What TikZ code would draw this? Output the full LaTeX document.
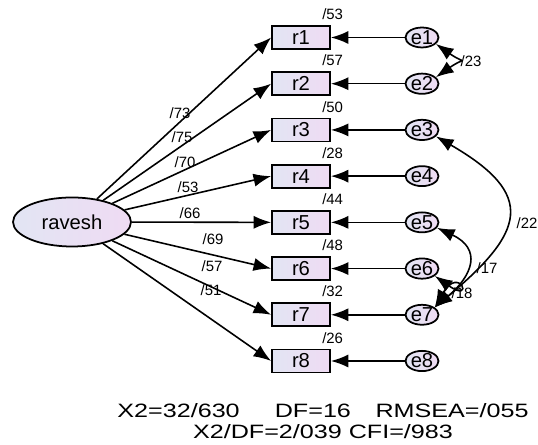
\documentclass[tikz,border=0pt]{standalone}
\usepackage{fontspec}
\setmainfont{Liberation Sans}
\newfontfamily\statfont[FakeStretch=1.3]{Liberation Sans}
\usetikzlibrary{arrows.meta,shapes.geometric,positioning}
\definecolor{fillleft}{RGB}{226,229,243}
\definecolor{fillright}{RGB}{239,219,243}
\tikzset{
  obs/.style={draw,line width=1pt,minimum width=1.16cm,minimum height=0.46cm,inner sep=0pt,
    left color=fillleft,right color=fillright,font=\fontsize{11.5}{12}\selectfont},
  err/.style={draw,ellipse,line width=1pt,minimum width=0.66cm,minimum height=0.38cm,inner sep=0pt,
    left color=fillleft,right color=fillright,font=\fontsize{11.5}{12}\selectfont},
  lat/.style={draw,ellipse,line width=1pt,minimum width=2.36cm,minimum height=0.98cm,inner sep=0pt,
    left color=fillleft,right color=fillright,font=\fontsize{11.5}{12}\selectfont},
  reg/.style={line width=0.9pt,-{Latex[length=10pt,width=7.5pt]}},
  cov/.style={line width=0.9pt,{Latex[length=10pt,width=7.5pt]}-{Latex[length=10pt,width=7.5pt]}},
  wt/.style={font=\fontsize{8.5}{9}\selectfont,inner sep=0pt},
}
\begin{document}
\begin{tikzpicture}
\useasboundingbox (0,0) rectangle (10.76,8.90);

\node[lat] (ravesh) at (1.44,4.46) {ravesh};

% indicators and their errors
\foreach \i/\v in {1/53,2/57,3/50,4/28,5/44,6/48,7/32,8/26} {
  \node[obs] (r\i) at (6.02,{8.15-0.9243*(\i-1)}) {r\i};
  \node[err] (e\i) at (8.44,{8.15-0.9243*(\i-1)}) {e\i};
  \node[wt,above=0.1cm of r\i.north east,xshift=1pt] (v\i) {/\v};
  \draw[reg] (ravesh) -- (r\i.west);
  \draw[reg] (e\i) -- (r\i);
}

%Labeling loadings
\node[wt] (w1) at (3.60,6.64) {/73};
\node[wt] (w2) at (3.64,6.16) {/75};
\node[wt] (w3) at (3.70,5.66) {/70};
\node[wt] (w4) at (3.76,5.16) {/53};
\node[wt] (w5) at (3.80,4.64) {/66};
\node[wt] (w6) at (4.26,4.12) {/69};
\node[wt] (w7) at (4.24,3.58) {/57};
\node[wt] (w8) at (4.22,3.10) {/51};

% covariances
\draw[cov] (e1.-25) to[out=-35,in=35,looseness=2.8] (e2.25);
\draw[cov] (e3.-25) to[out=-30,in=40,looseness=1.75] (e7.30);
\draw[cov] (e5.-20) to[out=-25,in=40,looseness=1.6] (e7.30);
\draw[cov] (e6.-30) to[out=-35,in=60,looseness=4] (e7.30);
\node[wt] (c12) at (9.42,7.68) {/23};
\node[wt] (c37) at (10.54,4.44) {/22};
\node[wt] (c57) at (9.74,3.54) {/17};
\node[wt] (c67) at (9.24,3.04) {/18};

% fit
\node[align=center,inner sep=0pt,font=\statfont\fontsize{11}{12}\selectfont] (fit) at (6.46,0.47)
  {X2=32/630\hspace{20pt}DF=16\hspace{14pt}RMSEA=/055\\X2/DF=2/039 CFI=/983};
\end{tikzpicture}
\end{document}
